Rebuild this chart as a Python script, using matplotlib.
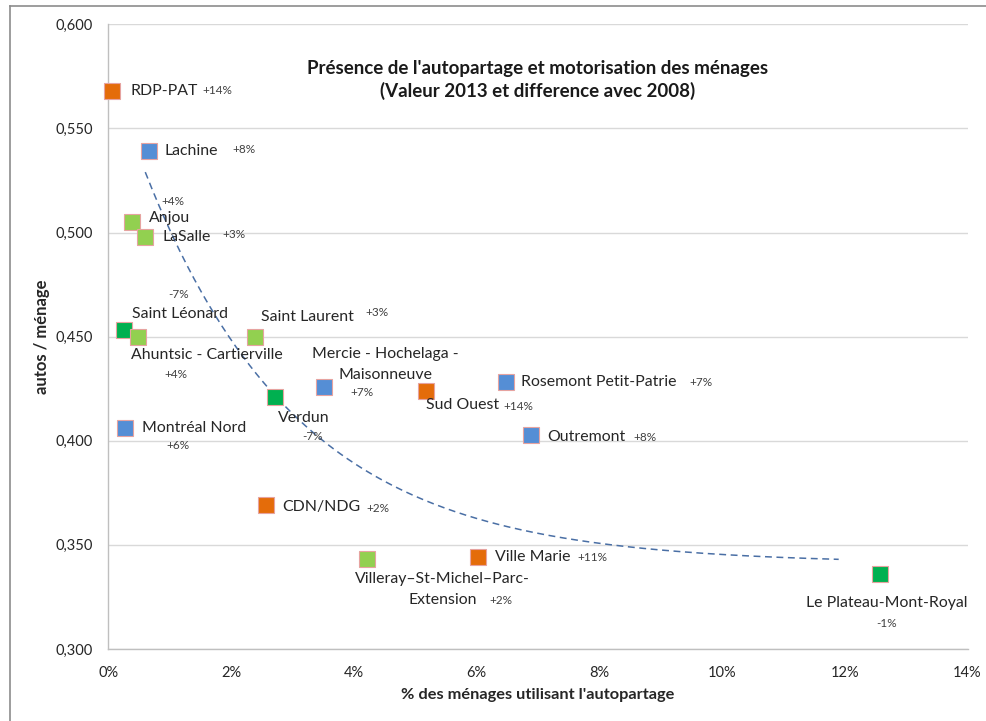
import numpy as np
import matplotlib
matplotlib.use("Agg")
import matplotlib.pyplot as plt
from matplotlib.lines import Line2D
from matplotlib.ticker import FuncFormatter, MultipleLocator

plt.rcParams["font.family"] = ["Lato", "DejaVu Sans"]

# Données (valeur 2013, écart avec 2008)
arrondissements = [
    "RDP-PAT", "Lachine", "Anjou", "LaSalle", "Saint Léonard",
    "Ahuntsic - Cartierville", "Saint Laurent", "Verdun",
    "Mercie - Hochelaga -\nMaisonneuve", "Sud Ouest", "Rosemont Petit-Patrie",
    "Outremont", "Montréal Nord", "CDN/NDG",
    "Villeray–St-Michel–Parc-\nExtension", "Ville Marie", "Le Plateau-Mont-Royal",
]
part_autopartage = [0.06, 0.66, 0.38, 0.60, 0.25, 0.48, 2.38, 2.72, 3.52,
                    5.17, 6.48, 6.89, 0.27, 2.57, 4.21, 6.02, 12.57]
autos_menage = [0.568, 0.539, 0.505, 0.498, 0.453, 0.450, 0.450, 0.421, 0.426,
                0.424, 0.428, 0.403, 0.406, 0.369, 0.343, 0.344, 0.336]
ecart_2008 = ["+14%", "+8%", "+4%", "+3%", "-7%", "+4%", "+3%", "-7%", "+7%",
              "+14%", "+7%", "+8%", "+6%", "+2%", "+2%", "+11%", "-1%"]
groupe = ["orange", "bleu", "vert clair", "vert clair", "vert foncé",
          "vert clair", "vert clair", "vert foncé", "bleu", "orange", "bleu",
          "bleu", "bleu", "orange", "vert clair", "orange", "vert foncé"]

# courbe de tendance (pointillés) : y = c + a * exp(-k x), x en %
TREND_C, TREND_A, TREND_K = 0.341, 0.239, 0.40
TREND_X0, TREND_X1 = 0.6, 11.9

COULEURS = {
    "orange": "#E46C0A",
    "bleu": "#558ED5",
    "vert clair": "#92D050",
    "vert foncé": "#00B050",
}

# décalages des étiquettes en pixels : (dx, dy, ha)
POS_NOM = [
    (18, 0, "left"), (16, 0, "left"), (17, 4, "left"), (17, 0, "left"),
    (8, 16, "left"), (-7, -18, "left"), (6, 20, "left"), (3, -21, "left"),
    (61, 22, "center"), (0, -14, "left"), (15, 0, "left"), (16, -2, "left"),
    (17, 0, "left"), (16, -2, "left"), (76, -30, "center"), (17, 0, "left"),
    (7, -29, "center"),
]
POS_ECART = [
    (90, 0, "left"), (83, 2, "left"), (30, 21, "left"), (77, 2, "left"),
    (44, 36, "left"), (26, -38, "left"), (111, 24, "left"), (27, -39, "left"),
    (26, -6, "left"), (78, -16, "left"), (183, 0, "left"), (102, -3, "left"),
    (41, -17, "left"), (100, -3, "left"), (123, -41, "left"), (100, 0, "left"),
    (7, -49, "center"),
]
INTERLIGNE = 21  # pixels entre deux lignes d'une étiquette

fig = plt.figure(figsize=(9.86, 7.21), dpi=100)
ax = fig.add_axes([0.110, 0.0999, 0.8713, 0.8664])

# cadre du graphique
fig.add_artist(Line2D([9.5 / 986, 9.5 / 986], [0, 1 - 6 / 721],
                      color="#8C8C8C", lw=1.2))
fig.add_artist(Line2D([9.5 / 986, 1], [1 - 6 / 721, 1 - 6 / 721],
                      color="#8C8C8C", lw=1.2))

xs = np.linspace(TREND_X0, TREND_X1, 200)
ax.plot(xs, TREND_C + TREND_A * np.exp(-TREND_K * xs), color="#4A6FA5",
        lw=1.1, linestyle=(0, (4.5, 3)), zorder=2)

for i, nom in enumerate(arrondissements):
    x, y = part_autopartage[i], autos_menage[i]
    ax.plot(x, y, marker="s", markersize=11, color=COULEURS[groupe[i]],
            markeredgecolor="#E6A3A0", markeredgewidth=0.8, linestyle="none",
            zorder=3, clip_on=False)
    dx, dy, ha = POS_NOM[i]
    lignes = nom.split("\n")
    haut = dy + (len(lignes) - 1) * INTERLIGNE / 2
    for k, ligne in enumerate(lignes):
        ax.annotate(ligne, (x, y), xytext=(dx, haut - k * INTERLIGNE),
                    textcoords="offset pixels", ha=ha, va="center",
                    fontsize=11.4, color="#262626", zorder=4)
    dx, dy, ha = POS_ECART[i]
    ax.annotate(ecart_2008[i], (x, y), xytext=(dx, dy), textcoords="offset pixels",
                ha=ha, va="center", fontsize=8.5, color="#404040", zorder=4)

ax.set_xlim(0, 14)
ax.set_ylim(0.300, 0.600)
ax.xaxis.set_major_locator(MultipleLocator(2))
ax.yaxis.set_major_locator(MultipleLocator(0.05))
ax.xaxis.set_major_formatter(FuncFormatter(lambda v, p: f"{v:.0f}%"))
ax.yaxis.set_major_formatter(FuncFormatter(lambda v, p: f"{v:.3f}".replace(".", ",")))
ax.tick_params(length=0, labelsize=10.5, labelcolor="#262626")
ax.tick_params(axis="y", pad=11)
ax.tick_params(axis="x", pad=12)

ax.grid(axis="y", color="#D9D9D9", lw=1)
ax.set_axisbelow(True)
for side in ["top", "right"]:
    ax.spines[side].set_visible(False)
for side in ["left", "bottom"]:
    ax.spines[side].set_color("#BFBFBF")
    ax.spines[side].set_linewidth(1)

ax.set_xlabel("% des ménages utilisant l'autopartage", fontsize=11.8,
              fontweight="bold", color="#262626", labelpad=6)
ax.set_ylabel("autos / ménage", fontsize=12, fontweight="bold",
              color="#262626", labelpad=4)

ax.text(0.5, 0.911, "Présence de l'autopartage et motorisation des ménages\n"
        "(Valeur 2013 et difference avec 2008)", transform=ax.transAxes,
        ha="center", va="center", fontsize=13.5, fontweight="bold",
        color="#1a1a1a", linespacing=1.3)

fig.savefig("out.png", dpi=100)
